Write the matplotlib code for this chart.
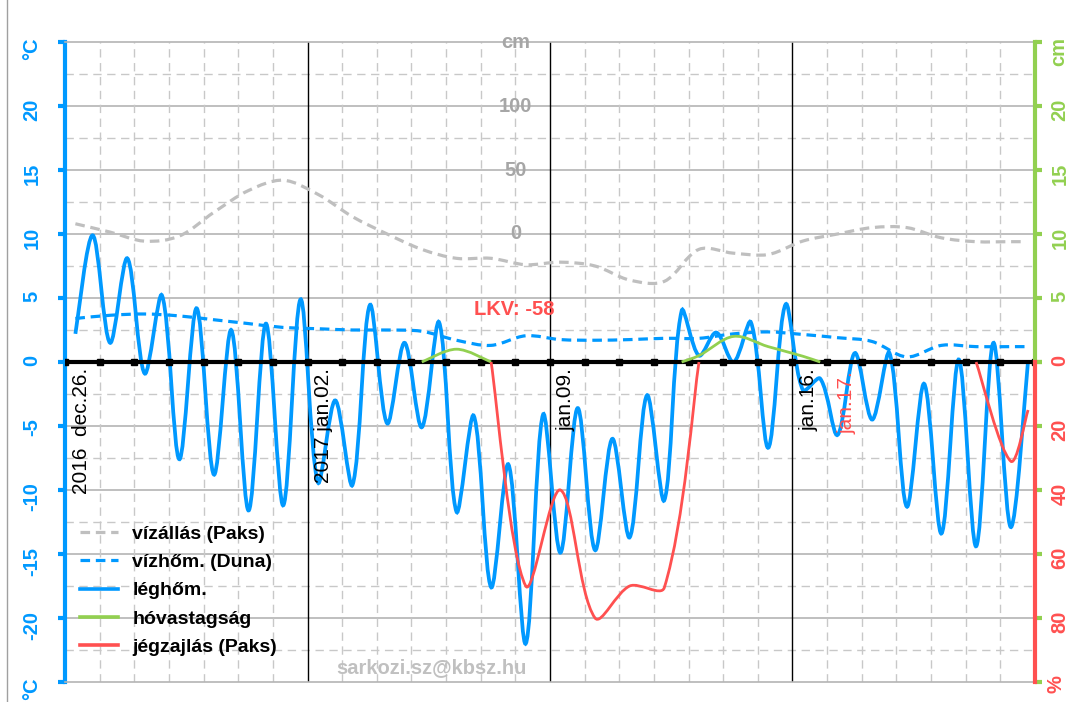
import numpy as np
import matplotlib
matplotlib.use("Agg")
from matplotlib import pyplot as plt
from matplotlib.path import Path
from matplotlib.patches import PathPatch
from matplotlib.lines import Line2D

plt.rcParams['font.family'] = ['Liberation Sans', 'DejaVu Sans']

# time axis: days after 2016 dec.26. 00:00 (4 weeks)
# air temperature, two readings a day (morning / evening), degC
air_t = np.arange(56) * 0.5 + 0.3
air_temp = [2.2, 9.9, 1.5, 8.1, -0.9, 5.2, -7.6, 4.2, -8.8, 2.5,
            -11.6, 3.0, -11.2, 4.9, -9.4, -3.0, -9.6, 4.45, -4.8, 1.5,
            -5.1, 3.1, -11.7, -4.2, -17.6, -8.0, -22.0, -4.1, -14.9, -3.6,
            -14.7, -6.0, -13.7, -2.6, -10.8, 4.0, 0.5, 2.3, 0.0, 3.1,
            -6.7, 4.5, -2.2, -1.3, -5.7, 0.7, -4.5, 0.7, -11.3, -1.7,
            -13.4, 0.2, -14.4, 1.5, -12.9, 0.1]

# Danube water temperature, degC
wt_t = list(np.arange(28) + 0.3) + [27.8]
water_temp = [3.4, 3.65, 3.75, 3.6, 3.3, 3.0, 2.7, 2.6, 2.5, 2.5,
              2.4, 1.7, 1.3, 2.05, 1.75, 1.7, 1.75, 1.85, 1.85, 2.2,
              2.35, 2.15, 1.9, 1.6, 0.4, 1.3, 1.2, 1.2, 1.2]

# water level at Paks, cm
wl_t = list(np.arange(28) + 0.3) + [27.6]
water_level = [8, 1.5, -5.6, -1.6, 17, 34, 42, 31, 13.5, 0,
               -12, -19, -19, -24, -22, -25, -36, -37, -12, -15,
               -16, -5.5, 0, 5, 5, -3, -6, -6, -6]

# snow depth, cm
snow_t1 = [10.3, 11.3, 12.3]
snow1 = [0, 1.0, 0]
snow_t2 = [17.8, 18.3, 19.3, 20.3, 21.3, 21.8]
snow2 = [0, 0.5, 2.0, 1.2, 0.45, 0]

# ice coverage at Paks, %
ice_t1 = [12.3, 13.3, 14.3, 15.3, 16.3, 17.3, 18.3]
ice1 = [0, 70, 40, 80, 70, 70.5, 0]
ice_t2 = [26.3, 27.3, 27.8]
ice2 = [0, 31, 15]

week_days = [0, 7, 14, 21]
week_labels = ["2016  dec.26.", "2017 jan.02.", "jan.09.", "jan.16."]

blue = '#0099FF'
green = '#92D050'
red = '#FF5050'
gray = '#BFBFBF'


def smooth_path(x, y, sy):
    # excel-like smoothed line: cubic bezier through every point,
    # tangents scaled by segment lengths in pixels (sx, sy = px per unit)
    sx = 970 / 28
    pts = np.column_stack([np.asarray(x, float), np.asarray(y, float)])
    n = len(pts)

    def dist(a, b):
        return np.hypot((b[0] - a[0]) * sx, (b[1] - a[1]) * sy) + 1e-9

    verts = [pts[0]]
    codes = [Path.MOVETO]
    for i in range(n - 1):
        p0 = pts[max(i - 1, 0)]
        p1 = pts[i]
        p2 = pts[i + 1]
        p3 = pts[min(i + 2, n - 1)]
        d01, d12, d23 = dist(p0, p1), dist(p1, p2), dist(p2, p3)
        if i == 0:
            d01 = d12
        if i == n - 2:
            d23 = d12
        c1 = p1 + (p2 - p0) * d12 / (d01 + d12) / 3
        c2 = p2 - (p3 - p1) * d12 / (d12 + d23) / 3
        verts += [c1, c2, p2]
        codes += [Path.CURVE4] * 3
    return Path(verts, codes)


fig = plt.figure(figsize=(10.73, 7.02), dpi=100)
ax = fig.add_axes([65 / 1073, 1 - 682 / 702, 970 / 1073, 640 / 702])
ax_lvl = ax.twinx()
ax_snow = ax.twinx()
ax_ice = ax.twinx()

ax.set_xlim(0, 28)
ax.set_ylim(-25, 25)
ax_lvl.set_ylim(-350, 150)
ax_snow.set_ylim(-25, 25)
ax_ice.set_ylim(100, -100)

# grid
for v in range(-20, 21, 5):
    ax.axhline(v, color='#B4B4B4', lw=1.2, zorder=1)
for v in np.arange(-22.5, 23, 5):
    ax.axhline(v, color='#C8C8C8', lw=1, ls=(0, (6, 4)), zorder=1)
for d in range(1, 28):
    if d in week_days:
        ax.axvline(d, color='black', lw=1, zorder=2)
    else:
        ax.axvline(d, color='#C8C8C8', lw=1, ls=(0, (6, 4)), zorder=1)

# series
ax.add_patch(PathPatch(smooth_path(wl_t, water_level, 640 / 500), fill=False,
                       edgecolor=gray, lw=2.3, ls=(0, (3, 1.8)),
                       transform=ax_lvl.transData, zorder=3))
ax.add_patch(PathPatch(smooth_path(wt_t, water_temp, 640 / 50), fill=False,
                       edgecolor=blue, lw=2.3, ls=(0, (3, 1.8)), zorder=4))
ax.add_patch(PathPatch(smooth_path(air_t, air_temp, 640 / 50), fill=False,
                       edgecolor=blue, lw=2.7, zorder=5))
ax.plot(range(29), np.zeros(29), color='black', lw=3, marker='s', ms=4.5, zorder=6)
for t, s in [(snow_t1, snow1), (snow_t2, snow2)]:
    ax.add_patch(PathPatch(smooth_path(t, s, 640 / 50), fill=False, edgecolor=green,
                           lw=2, transform=ax_snow.transData, zorder=7))
for t, s in [(ice_t1, ice1), (ice_t2, ice2)]:
    ax.add_patch(PathPatch(smooth_path(t, s, 640 / 200), fill=False, edgecolor=red,
                           lw=2, transform=ax_ice.transData, zorder=8))

# left axis
ax.set_xticks([])
ax.set_yticks(range(-25, 26, 5))
ax.set_yticklabels([''] + [str(v) for v in range(-20, 21, 5)] + [''])
ax.tick_params(axis='y', colors=blue, length=5, width=3, pad=12, labelsize=14.5,
               labelrotation=90)
for lab in ax.get_yticklabels():
    lab.set_fontweight('bold')
for s in ['top', 'bottom']:
    ax.spines[s].set_color('#B4B4B4')
    ax.spines[s].set_linewidth(1.2)
ax.spines['right'].set_visible(False)
ax.spines['left'].set_color(blue)
ax.spines['left'].set_linewidth(3)
ax.text(-0.034, 0.99, '°C', transform=ax.transAxes, rotation=90, color=blue,
        fontsize=14.5, fontweight='bold', ha='center', va='center')
ax.text(-0.034, -0.011, '°C', transform=ax.transAxes, rotation=90, color=blue,
        fontsize=14.5, fontweight='bold', ha='center', va='center')

# hidden water level axis, labelled in the middle
ax_lvl.axis('off')
for v in [0, 50, 100]:
    ax_lvl.text(13, v, str(v), color='#A6A6A6', fontsize=14.5, fontweight='bold',
                ha='center', va='center')
ax_lvl.text(13, 150, 'cm', color='#A6A6A6', fontsize=14.5, fontweight='bold',
            ha='center', va='center')

# right axes
for a in [ax_snow, ax_ice]:
    for s in ['top', 'bottom', 'left']:
        a.spines[s].set_visible(False)
    a.set_xticks([])
ax_snow.set_yticks(range(0, 26, 5))
ax_snow.set_yticklabels(['', '5', '10', '15', '20', ''])
ax_snow.spines['right'].set_bounds(0, 25)
ax_snow.spines['right'].set_color(green)
ax_snow.spines['right'].set_linewidth(3)
ax_snow.tick_params(axis='y', color=green, labelcolor=green, length=5, width=3,
                    pad=6, labelsize=14.5, labelrotation=90)
ax_ice.set_yticks(range(0, 101, 20))
ax_ice.set_yticklabels(['0', '20', '40', '60', '80', ''])
ax_ice.spines['right'].set_bounds(0, 100)
ax_ice.spines['right'].set_color(red)
ax_ice.spines['right'].set_linewidth(3)
ax_ice.tick_params(axis='y', color=green, labelcolor=red, length=5, width=3,
                   pad=6, labelsize=14.5, labelrotation=90)
for a in [ax_snow, ax_ice]:
    for lab in a.get_yticklabels():
        lab.set_fontweight('bold')
ax.text(1.024, 0.985, 'cm', transform=ax.transAxes, rotation=90, color=green,
        fontsize=14.5, fontweight='bold', ha='center', va='center')
ax.text(1.022, -0.003, '%', transform=ax.transAxes, rotation=90, color=red,
        fontsize=14.5, fontweight='bold', ha='center', va='center')

# date labels
for d, lab in zip(week_days, week_labels):
    ax.text(d + 0.2, -0.45, lab, rotation=90, ha='left', va='top', fontsize=15,
            color='black', zorder=9)
ax.text(22.3, -0.7, 'jan.17.', rotation=90, ha='left', va='top', fontsize=15,
        color=red, zorder=9)
ax.text(12.96, 4.1, 'LKV: -58', color=red, fontsize=14.5, fontweight='bold',
        ha='center', va='center', zorder=9)
ax.text(10.57, -23.9, 'sarkozi.sz@kbsz.hu', color='#C0C0C0', fontsize=14.5,
        fontweight='bold', ha='center', va='center', zorder=9)

# legend
handles = [Line2D([], [], color=gray, lw=2.3, ls=(0, (3, 1.8))),
           Line2D([], [], color=blue, lw=2.3, ls=(0, (3, 1.8))),
           Line2D([], [], color=blue, lw=2.6),
           Line2D([], [], color=green, lw=2.6),
           Line2D([], [], color=red, lw=2.6)]
labels = ['vízállás (Paks)', 'vízhőm. (Duna)', 'léghőm.', 'hóvastagság',
          'jégzajlás (Paks)']
leg = ax_ice.legend(handles, labels, loc='upper left', bbox_to_anchor=(0.0155, 0.245),
                    frameon=False, borderpad=0, borderaxespad=0, handlelength=1.96,
                    handletextpad=0.72, labelspacing=0.55,
                    prop={'size': 14, 'weight': 'bold'})

# thin frame line at the left edge of the picture
fig.add_artist(Line2D([7 / 1073, 7 / 1073], [0, 1], transform=fig.transFigure,
                      color='#A0A0A0', lw=1))

fig.savefig('out.png', dpi=100)
